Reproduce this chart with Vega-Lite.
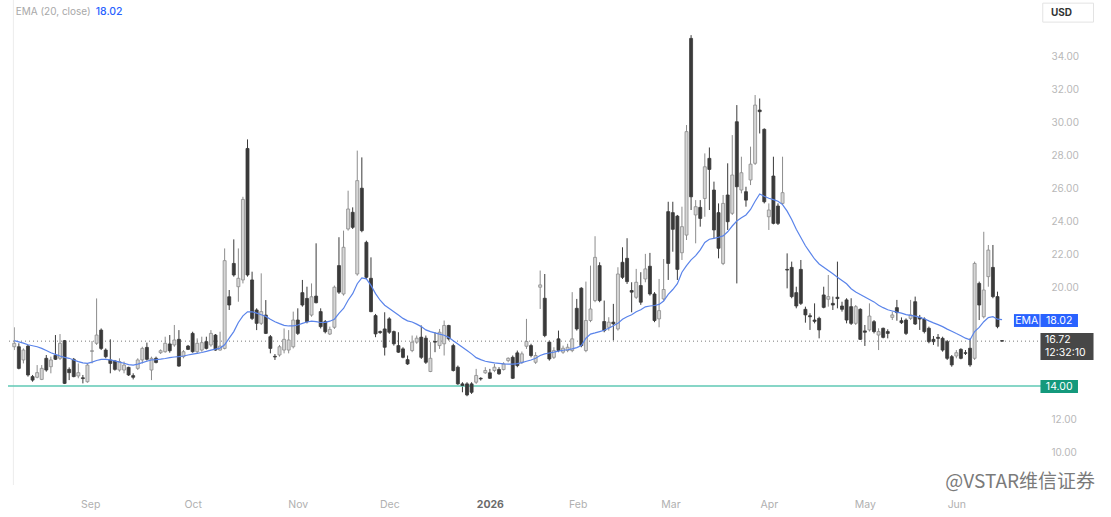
{
"$schema":"https://vega.github.io/schema/vega-lite/v6.json",
"width":1034,"height":485,"autosize":"none",
"padding":{"left":8,"top":0,"right":69,"bottom":32},
"background":"white",
"config":{"view":{"stroke":null},"font":"Inter","text":{"font":"Inter"}},
"data":{"values":[{}]},
"datasets":{"candles":[
{"i":0,"o":16.38,"h":17.56,"l":16.18,"c":16.59,"e":16.75},
{"i":1,"o":16.38,"h":16.59,"l":15.01,"c":15.07,"e":16.68},
{"i":2,"o":15.58,"h":16.28,"l":15.37,"c":16.18,"e":16.6},
{"i":3,"o":16.42,"h":16.49,"l":14.57,"c":14.67,"e":16.5},
{"i":4,"o":14.57,"h":14.67,"l":14.26,"c":14.36,"e":16.44},
{"i":5,"o":14.53,"h":15.27,"l":14.47,"c":14.81,"e":16.38},
{"i":6,"o":14.4,"h":15.27,"l":14.36,"c":15.07,"e":16.28},
{"i":7,"o":15.68,"h":15.88,"l":14.87,"c":14.97,"e":16.15},
{"i":8,"o":15.17,"h":15.78,"l":14.77,"c":15.58,"e":16.02},
{"i":9,"o":15.86,"h":17.09,"l":15.58,"c":15.62,"e":15.92},
{"i":10,"o":15.68,"h":17.15,"l":15.58,"c":16.59,"e":15.82},
{"i":11,"o":16.75,"h":16.79,"l":14.12,"c":14.16,"e":15.74},
{"i":12,"o":15.01,"h":15.13,"l":14.36,"c":14.81,"e":15.68},
{"i":13,"o":15.62,"h":15.7,"l":14.53,"c":14.57,"e":15.58},
{"i":14,"o":14.61,"h":15.37,"l":14.47,"c":14.81,"e":15.48},
{"i":15,"o":14.5,"h":14.67,"l":14.16,"c":14.45,"e":15.4},
{"i":16,"o":14.26,"h":15.37,"l":14.2,"c":15.27,"e":15.37},
{"i":17,"o":16.1,"h":16.73,"l":15.37,"c":16.14,"e":15.45},
{"i":18,"o":16.59,"h":19.31,"l":16.49,"c":17.09,"e":15.55},
{"i":19,"o":17.39,"h":17.49,"l":16.18,"c":16.28,"e":15.62},
{"i":20,"o":16.18,"h":16.28,"l":15.68,"c":15.78,"e":15.62},
{"i":21,"o":15.58,"h":16.83,"l":14.77,"c":15.37,"e":15.58},
{"i":22,"o":15.52,"h":15.58,"l":14.93,"c":15.01,"e":15.52},
{"i":23,"o":14.97,"h":15.68,"l":14.87,"c":15.48,"e":15.45},
{"i":24,"o":14.97,"h":15.48,"l":14.77,"c":15.27,"e":15.38},
{"i":25,"o":15.13,"h":15.17,"l":14.61,"c":14.67,"e":15.3},
{"i":26,"o":14.63,"h":14.77,"l":14.4,"c":14.53,"e":15.27},
{"i":27,"o":15.07,"h":15.68,"l":14.97,"c":15.58,"e":15.33},
{"i":28,"o":15.58,"h":16.38,"l":15.37,"c":16.28,"e":15.42},
{"i":29,"o":16.34,"h":16.63,"l":15.54,"c":15.62,"e":15.5},
{"i":30,"o":14.97,"h":15.78,"l":14.36,"c":15.68,"e":15.58},
{"i":31,"o":15.68,"h":15.78,"l":15.37,"c":15.43,"e":15.6},
{"i":32,"o":16.02,"h":16.22,"l":15.94,"c":16.14,"e":15.63},
{"i":33,"o":16.08,"h":16.99,"l":16.02,"c":16.59,"e":15.67},
{"i":34,"o":16.55,"h":17.09,"l":16.02,"c":16.14,"e":15.72},
{"i":35,"o":16.49,"h":17.7,"l":16.38,"c":16.79,"e":15.76},
{"i":36,"o":16.83,"h":17.39,"l":15.17,"c":15.21,"e":15.78},
{"i":37,"o":15.78,"h":16.18,"l":15.68,"c":16.08,"e":15.82},
{"i":38,"o":16.42,"h":16.49,"l":16.18,"c":16.22,"e":15.88},
{"i":39,"o":17.19,"h":17.29,"l":16.02,"c":16.08,"e":15.93},
{"i":40,"o":16.08,"h":16.89,"l":15.98,"c":16.59,"e":15.98},
{"i":41,"o":16.18,"h":16.99,"l":16.08,"c":16.63,"e":16.03},
{"i":42,"o":16.69,"h":16.99,"l":16.22,"c":16.28,"e":16.1},
{"i":43,"o":16.49,"h":17.39,"l":16.38,"c":17.19,"e":16.18},
{"i":44,"o":17.09,"h":17.15,"l":16.14,"c":16.18,"e":16.24},
{"i":45,"o":16.18,"h":17.29,"l":16.14,"c":16.42,"e":16.3},
{"i":46,"o":16.28,"h":22.34,"l":16.22,"c":21.6,"e":16.5},
{"i":47,"o":19.41,"h":19.82,"l":18.61,"c":18.91,"e":16.9},
{"i":48,"o":21.43,"h":22.89,"l":20.63,"c":20.73,"e":17.3},
{"i":49,"o":20.02,"h":22.34,"l":19.11,"c":20.53,"e":17.85},
{"i":50,"o":20.43,"h":25.47,"l":20.22,"c":25.31,"e":18.25},
{"i":51,"o":28.4,"h":28.95,"l":20.63,"c":20.73,"e":18.5},
{"i":52,"o":20.43,"h":20.93,"l":18.0,"c":18.1,"e":18.5},
{"i":53,"o":18.61,"h":18.71,"l":17.39,"c":17.8,"e":18.42},
{"i":54,"o":17.8,"h":20.83,"l":17.7,"c":18.51,"e":18.32},
{"i":55,"o":18.3,"h":19.21,"l":17.15,"c":17.19,"e":18.22},
{"i":56,"o":16.99,"h":17.09,"l":15.98,"c":16.28,"e":18.05},
{"i":57,"o":15.8,"h":15.94,"l":15.58,"c":15.76,"e":17.9},
{"i":58,"o":15.88,"h":16.49,"l":15.78,"c":16.38,"e":17.78},
{"i":59,"o":16.18,"h":17.49,"l":15.98,"c":16.83,"e":17.68},
{"i":60,"o":16.18,"h":17.39,"l":15.98,"c":16.79,"e":17.64},
{"i":61,"o":16.38,"h":18.51,"l":16.28,"c":18.0,"e":17.65},
{"i":62,"o":18.0,"h":18.71,"l":17.09,"c":17.19,"e":17.7},
{"i":63,"o":19.66,"h":20.43,"l":18.81,"c":18.91,"e":17.8},
{"i":64,"o":19.31,"h":20.02,"l":17.8,"c":17.9,"e":17.88},
{"i":65,"o":18.3,"h":20.22,"l":18.2,"c":19.41,"e":17.93},
{"i":66,"o":19.45,"h":22.65,"l":19.01,"c":19.05,"e":17.9},
{"i":67,"o":18.51,"h":18.71,"l":17.49,"c":17.6,"e":17.85},
{"i":68,"o":17.9,"h":18.0,"l":17.19,"c":17.29,"e":17.86},
{"i":69,"o":17.15,"h":17.6,"l":17.09,"c":17.43,"e":17.93},
{"i":70,"o":17.56,"h":20.09,"l":17.46,"c":19.99,"e":18.05},
{"i":71,"o":21.3,"h":23.02,"l":19.58,"c":19.69,"e":18.4},
{"i":72,"o":19.58,"h":23.42,"l":19.48,"c":22.41,"e":18.7},
{"i":73,"o":23.52,"h":25.84,"l":23.42,"c":24.73,"e":19.2},
{"i":74,"o":24.53,"h":24.83,"l":23.52,"c":23.62,"e":19.6},
{"i":75,"o":20.79,"h":28.27,"l":20.69,"c":26.45,"e":20.2},
{"i":76,"o":25.99,"h":27.86,"l":23.32,"c":23.42,"e":20.55},
{"i":77,"o":22.71,"h":22.81,"l":20.49,"c":20.59,"e":20.5},
{"i":78,"o":20.53,"h":21.8,"l":18.47,"c":18.51,"e":20.1},
{"i":79,"o":18.27,"h":18.37,"l":16.96,"c":17.16,"e":19.6},
{"i":80,"o":17.3,"h":17.36,"l":17.16,"c":17.24,"e":19.2},
{"i":81,"o":17.46,"h":18.47,"l":15.85,"c":16.35,"e":18.9},
{"i":82,"o":18.07,"h":18.17,"l":17.16,"c":17.26,"e":18.7},
{"i":83,"o":17.3,"h":17.36,"l":16.45,"c":16.56,"e":18.5},
{"i":84,"o":16.45,"h":17.26,"l":16.01,"c":16.05,"e":18.3},
{"i":85,"o":16.25,"h":16.35,"l":15.68,"c":15.74,"e":18.1},
{"i":86,"o":15.6,"h":15.85,"l":15.28,"c":15.34,"e":17.95},
{"i":87,"o":16.15,"h":17.06,"l":16.05,"c":16.66,"e":17.88},
{"i":88,"o":16.66,"h":17.06,"l":16.56,"c":16.9,"e":17.75},
{"i":89,"o":16.96,"h":17.67,"l":15.64,"c":15.74,"e":17.6},
{"i":90,"o":16.9,"h":17.06,"l":15.34,"c":15.44,"e":17.4},
{"i":91,"o":14.88,"h":16.66,"l":14.84,"c":15.68,"e":17.3},
{"i":92,"o":16.7,"h":17.26,"l":16.05,"c":16.66,"e":17.22},
{"i":93,"o":16.45,"h":17.46,"l":16.25,"c":17.26,"e":17.15},
{"i":94,"o":16.56,"h":17.97,"l":15.85,"c":17.67,"e":17.08},
{"i":95,"o":17.67,"h":17.71,"l":16.76,"c":16.86,"e":16.95},
{"i":96,"o":16.45,"h":16.56,"l":14.88,"c":14.94,"e":16.75},
{"i":97,"o":15.14,"h":15.24,"l":14.07,"c":14.13,"e":16.55},
{"i":98,"o":14.13,"h":14.23,"l":13.62,"c":14.03,"e":16.35},
{"i":99,"o":14.13,"h":14.23,"l":13.38,"c":13.46,"e":16.15},
{"i":100,"o":14.13,"h":14.23,"l":13.52,"c":13.62,"e":15.95},
{"i":101,"o":14.23,"h":15.04,"l":14.13,"c":14.64,"e":15.72},
{"i":102,"o":14.47,"h":14.53,"l":14.33,"c":14.43,"e":15.6},
{"i":103,"o":14.8,"h":15.14,"l":14.74,"c":14.94,"e":15.5},
{"i":104,"o":14.8,"h":15.04,"l":14.43,"c":14.47,"e":15.45},
{"i":105,"o":14.94,"h":15.34,"l":14.84,"c":15.14,"e":15.4},
{"i":106,"o":15.0,"h":15.14,"l":14.68,"c":14.74,"e":15.37},
{"i":107,"o":15.0,"h":15.44,"l":14.94,"c":15.34,"e":15.34},
{"i":108,"o":15.54,"h":15.74,"l":15.44,"c":15.68,"e":15.33},
{"i":109,"o":15.74,"h":15.85,"l":14.43,"c":14.47,"e":15.33},
{"i":110,"o":16.01,"h":16.15,"l":15.14,"c":15.24,"e":15.36},
{"i":111,"o":15.44,"h":16.09,"l":15.34,"c":15.95,"e":15.42},
{"i":112,"o":16.41,"h":18.07,"l":16.25,"c":16.7,"e":15.5},
{"i":113,"o":16.45,"h":16.56,"l":15.74,"c":15.85,"e":15.58},
{"i":114,"o":15.44,"h":16.05,"l":15.34,"c":15.85,"e":15.68},
{"i":115,"o":19.99,"h":21.0,"l":18.67,"c":20.13,"e":15.85},
{"i":116,"o":19.32,"h":20.79,"l":16.96,"c":17.06,"e":15.95},
{"i":117,"o":16.66,"h":16.76,"l":15.54,"c":15.64,"e":16.0},
{"i":118,"o":15.74,"h":16.35,"l":15.64,"c":16.15,"e":16.05},
{"i":119,"o":16.86,"h":17.36,"l":16.05,"c":16.15,"e":16.12},
{"i":120,"o":16.05,"h":16.45,"l":15.95,"c":16.29,"e":16.17},
{"i":121,"o":16.15,"h":16.56,"l":16.05,"c":16.35,"e":16.2},
{"i":122,"o":16.15,"h":19.69,"l":16.05,"c":16.86,"e":16.25},
{"i":123,"o":18.71,"h":19.28,"l":17.36,"c":17.46,"e":16.33},
{"i":124,"o":19.93,"h":19.99,"l":16.35,"c":16.45,"e":16.45},
{"i":125,"o":16.15,"h":20.33,"l":16.05,"c":17.97,"e":16.9},
{"i":126,"o":17.97,"h":21.3,"l":17.87,"c":18.67,"e":17.15},
{"i":127,"o":19.18,"h":23.08,"l":19.08,"c":21.8,"e":17.22},
{"i":128,"o":21.3,"h":21.5,"l":19.08,"c":19.18,"e":17.3},
{"i":129,"o":17.91,"h":19.18,"l":17.26,"c":17.36,"e":17.38},
{"i":130,"o":17.56,"h":18.17,"l":17.36,"c":17.87,"e":17.5},
{"i":131,"o":17.87,"h":18.98,"l":16.76,"c":17.77,"e":17.65},
{"i":132,"o":17.46,"h":21.2,"l":17.36,"c":20.79,"e":17.8},
{"i":133,"o":21.5,"h":22.41,"l":20.49,"c":20.59,"e":18.05},
{"i":134,"o":21.74,"h":22.96,"l":20.19,"c":20.33,"e":18.2},
{"i":135,"o":19.79,"h":20.29,"l":18.47,"c":19.69,"e":18.32},
{"i":136,"o":19.38,"h":21.1,"l":19.28,"c":20.29,"e":18.5},
{"i":137,"o":20.09,"h":20.9,"l":18.92,"c":19.08,"e":18.62},
{"i":138,"o":20.49,"h":22.01,"l":20.29,"c":21.1,"e":18.8},
{"i":139,"o":21.26,"h":22.07,"l":19.48,"c":19.58,"e":18.85},
{"i":140,"o":19.58,"h":19.69,"l":17.87,"c":17.97,"e":18.88},
{"i":141,"o":18.07,"h":20.49,"l":17.56,"c":18.57,"e":18.95},
{"i":142,"o":19.28,"h":21.7,"l":19.18,"c":19.85,"e":19.15},
{"i":143,"o":24.57,"h":25.17,"l":20.43,"c":21.43,"e":19.55},
{"i":144,"o":24.51,"h":25.17,"l":22.14,"c":23.5,"e":19.85},
{"i":145,"o":24.3,"h":24.37,"l":20.43,"c":21.07,"e":20.2},
{"i":146,"o":22.08,"h":24.87,"l":21.64,"c":23.66,"e":20.9},
{"i":147,"o":23.15,"h":29.82,"l":22.85,"c":29.42,"e":21.3},
{"i":148,"o":35.07,"h":35.27,"l":24.67,"c":25.47,"e":21.65},
{"i":149,"o":24.37,"h":25.27,"l":22.65,"c":24.87,"e":21.9},
{"i":150,"o":24.83,"h":25.27,"l":23.66,"c":24.16,"e":22.25},
{"i":151,"o":25.37,"h":28.1,"l":24.26,"c":27.29,"e":22.7},
{"i":152,"o":27.8,"h":28.46,"l":24.67,"c":27.13,"e":22.9},
{"i":153,"o":25.88,"h":26.39,"l":22.95,"c":23.46,"e":22.95},
{"i":154,"o":24.51,"h":25.07,"l":21.74,"c":22.35,"e":23.02},
{"i":155,"o":21.43,"h":25.58,"l":21.33,"c":25.07,"e":23.1},
{"i":156,"o":25.58,"h":27.5,"l":23.46,"c":23.96,"e":23.35},
{"i":157,"o":24.47,"h":29.21,"l":24.37,"c":26.79,"e":23.7},
{"i":158,"o":30.02,"h":31.03,"l":20.22,"c":26.08,"e":24.0},
{"i":159,"o":25.88,"h":27.9,"l":25.68,"c":26.93,"e":24.2},
{"i":160,"o":25.78,"h":26.08,"l":24.87,"c":25.27,"e":24.37},
{"i":161,"o":26.49,"h":28.51,"l":26.18,"c":27.45,"e":24.7},
{"i":162,"o":27.5,"h":31.64,"l":27.4,"c":31.03,"e":25.2},
{"i":163,"o":30.73,"h":31.43,"l":29.31,"c":30.63,"e":25.64},
{"i":164,"o":29.56,"h":29.62,"l":25.07,"c":25.17,"e":25.5},
{"i":165,"o":24.26,"h":25.07,"l":23.46,"c":24.67,"e":25.38},
{"i":166,"o":26.73,"h":27.9,"l":23.8,"c":23.86,"e":25.3},
{"i":167,"o":24.91,"h":25.07,"l":23.76,"c":23.86,"e":25.2},
{"i":168,"o":25.07,"h":27.9,"l":24.97,"c":25.72,"e":25.0},
{"i":169,"o":21.07,"h":22.04,"l":19.92,"c":21.03,"e":24.6},
{"i":170,"o":21.19,"h":21.54,"l":19.32,"c":19.42,"e":24.1},
{"i":171,"o":19.66,"h":20.02,"l":18.71,"c":18.85,"e":23.5},
{"i":172,"o":21.07,"h":21.64,"l":18.91,"c":19.01,"e":23.0},
{"i":173,"o":18.65,"h":18.81,"l":17.84,"c":18.31,"e":22.5},
{"i":174,"o":18.26,"h":18.41,"l":17.4,"c":18.2,"e":22.1},
{"i":175,"o":18.0,"h":19.01,"l":17.8,"c":17.92,"e":21.7},
{"i":176,"o":18.1,"h":18.2,"l":16.89,"c":17.4,"e":21.4},
{"i":177,"o":19.52,"h":20.02,"l":18.71,"c":18.77,"e":21.2},
{"i":178,"o":19.26,"h":20.73,"l":18.81,"c":19.42,"e":21.0},
{"i":179,"o":19.01,"h":19.42,"l":18.61,"c":18.91,"e":20.8},
{"i":180,"o":19.38,"h":21.54,"l":18.71,"c":19.3,"e":20.6},
{"i":181,"o":18.85,"h":19.11,"l":18.51,"c":18.65,"e":20.4},
{"i":182,"o":19.22,"h":19.32,"l":17.8,"c":18.0,"e":20.2},
{"i":183,"o":18.81,"h":19.32,"l":17.7,"c":17.8,"e":19.9},
{"i":184,"o":17.8,"h":18.91,"l":17.7,"c":18.81,"e":19.7},
{"i":185,"o":18.65,"h":18.71,"l":16.79,"c":16.83,"e":19.55},
{"i":186,"o":17.34,"h":17.7,"l":16.43,"c":17.26,"e":19.4},
{"i":187,"o":17.4,"h":19.01,"l":17.3,"c":18.24,"e":19.25},
{"i":188,"o":17.9,"h":18.0,"l":17.19,"c":17.3,"e":19.1},
{"i":189,"o":17.09,"h":17.5,"l":16.18,"c":17.3,"e":18.9},
{"i":190,"o":17.5,"h":17.54,"l":16.89,"c":16.95,"e":18.75},
{"i":191,"o":17.3,"h":17.44,"l":16.89,"c":17.19,"e":18.62},
{"i":192,"o":18.16,"h":18.51,"l":18.0,"c":18.31,"e":18.55},
{"i":193,"o":18.75,"h":19.22,"l":17.96,"c":18.45,"e":18.48},
{"i":194,"o":17.96,"h":18.16,"l":17.76,"c":17.84,"e":18.42},
{"i":195,"o":18.0,"h":18.1,"l":17.09,"c":17.19,"e":18.33},
{"i":196,"o":18.1,"h":19.22,"l":18.0,"c":18.31,"e":18.28},
{"i":197,"o":19.11,"h":19.42,"l":17.7,"c":17.76,"e":18.24},
{"i":198,"o":18.16,"h":18.31,"l":17.4,"c":18.06,"e":18.16},
{"i":199,"o":18.06,"h":18.16,"l":17.19,"c":17.3,"e":18.08},
{"i":200,"o":17.5,"h":17.6,"l":16.59,"c":16.69,"e":17.95},
{"i":201,"o":16.83,"h":17.03,"l":16.49,"c":16.69,"e":17.83},
{"i":202,"o":16.95,"h":17.15,"l":16.39,"c":16.89,"e":17.72},
{"i":203,"o":16.89,"h":16.99,"l":16.08,"c":16.18,"e":17.6},
{"i":204,"o":16.69,"h":16.79,"l":15.58,"c":15.68,"e":17.45},
{"i":205,"o":15.78,"h":15.88,"l":15.17,"c":15.28,"e":17.32},
{"i":206,"o":15.82,"h":16.18,"l":15.68,"c":16.02,"e":17.18},
{"i":207,"o":16.22,"h":16.29,"l":15.62,"c":15.68,"e":17.05},
{"i":208,"o":16.02,"h":16.18,"l":15.88,"c":15.98,"e":16.9},
{"i":209,"o":16.29,"h":16.89,"l":15.17,"c":15.28,"e":16.8},
{"i":210,"o":15.68,"h":21.54,"l":15.58,"c":21.43,"e":17.3},
{"i":211,"o":20.22,"h":20.33,"l":18.0,"c":18.91,"e":17.55},
{"i":212,"o":18.2,"h":23.35,"l":18.1,"c":19.82,"e":17.9},
{"i":213,"o":20.63,"h":22.55,"l":20.02,"c":22.24,"e":18.15},
{"i":214,"o":21.19,"h":22.55,"l":19.32,"c":19.42,"e":18.2},
{"i":215,"o":19.42,"h":19.72,"l":17.5,"c":17.6,"e":18.05},
{"i":216,"o":16.75,"h":16.78,"l":16.7,"c":16.72,"e":18.02}
]},
"layer":[
{"data":{"name":"candles"},
 "mark":{"type":"rule","strokeWidth":1},
 "encoding":{
  "x":{"field":"i","type":"quantitative","scale":{"domain":[-0.28,223.64],"nice":false,"zero":false},
   "axis":{"values":[16.6,39,62,82,104,123.2,143.5,165,186,206],
    "labelExpr":"datum.value==16.6?'Sep':datum.value==39?'Oct':datum.value==62?'Nov':datum.value==82?'Dec':datum.value==104?'2026':datum.value==123.2?'Feb':datum.value==143.5?'Mar':datum.value==165?'Apr':datum.value==186?'May':'Jun'",
    "title":null,"grid":false,"domain":false,"ticks":false,"labelPadding":14,"labelFlush":false,"labelFontSize":10.5,"labelFont":"Inter",
    "labelColor":{"condition":{"test":"datum.value==104","value":"#6b6b6b"},"value":"#b0b0b0"},
    "labelFontWeight":{"condition":{"test":"datum.value==104","value":"bold"},"value":"normal"}}},
  "y":{"field":"l","type":"quantitative","scale":{"domain":[8.0,37.4],"nice":false,"zero":false},
   "axis":{"orient":"right","values":[10,12,20,22,24,26,28,30,32,34],"format":".2f","title":null,"grid":false,"domain":false,"ticks":false,"labelPadding":9,"labelColor":"#b8b8b8","labelFontSize":10,"labelFont":"Inter"}},
  "y2":{"field":"h"},
  "color":{"condition":{"test":"datum.c>=datum.o","value":"#8c8c8c"},"value":"#3a3a3a"}}},
{"mark":{"type":"rule","color":"#ececec","strokeWidth":1},
 "encoding":{"x":{"datum":-0.2}}},
{"mark":{"type":"rule","color":"#7a7a7a","strokeDash":[1,3],"strokeWidth":1},
 "encoding":{"y":{"datum":16.72}}},
{"mark":{"type":"rule","color":"#5fc8b4","strokeWidth":1.6},
 "encoding":{"y":{"datum":14.0}}},
{"data":{"name":"candles"},
 "mark":{"type":"bar","width":3,"strokeWidth":0.8},
 "encoding":{
  "x":{"field":"i","type":"quantitative"},
  "y":{"field":"o","type":"quantitative"},
  "y2":{"field":"c"},
  "fill":{"condition":{"test":"datum.c>=datum.o","value":"#d6d6d6"},"value":"#3a3a3a"},
  "stroke":{"condition":{"test":"datum.c>=datum.o","value":"#8c8c8c"},"value":"#3a3a3a"}}},
{"data":{"name":"candles"},
 "mark":{"type":"line","color":"#5a84ea","strokeWidth":1.2},
 "encoding":{
  "x":{"field":"i","type":"quantitative"},
  "y":{"field":"e","type":"quantitative"}}},
{"mark":{"type":"rect","color":"#2962ff"},
 "encoding":{"x":{"datum":218.6},"x2":{"datum":224.2},"y":{"datum":18.36},"y2":{"datum":17.58}}},
{"mark":{"type":"rect","color":"#2962ff"},
 "encoding":{"x":{"datum":224.4},"x2":{"datum":232.6},"y":{"datum":18.36},"y2":{"datum":17.58}}},
{"mark":{"type":"rect","color":"#474747"},
 "encoding":{"x":{"datum":224.4},"x2":{"datum":236.0},"y":{"datum":17.21},"y2":{"datum":15.58}}},
{"mark":{"type":"rect","color":"#14997c"},
 "encoding":{"x":{"datum":224.4},"x2":{"datum":232.6},"y":{"datum":14.36},"y2":{"datum":13.58}}},
{"mark":{"type":"rect","fill":"white","stroke":"#e3e3e3","strokeWidth":1},
 "encoding":{"x":{"datum":224.9},"x2":{"datum":236.0},"y":{"datum":37.21},"y2":{"datum":36.06}}},
{"mark":{"type":"text","color":"white","fontSize":10.5,"align":"center","baseline":"middle"},
 "encoding":{"x":{"datum":221.4},"y":{"datum":17.97},"text":{"value":"EMA"}}},
{"mark":{"type":"text","color":"white","fontSize":10.5,"align":"center","baseline":"middle"},
 "encoding":{"x":{"datum":228.5},"y":{"datum":17.97},"text":{"value":"18.02"}}},
{"mark":{"type":"text","color":"white","fontSize":10.5,"align":"left","baseline":"middle"},
 "encoding":{"x":{"datum":225.4},"y":{"datum":16.79},"text":{"value":"16.72"}}},
{"mark":{"type":"text","color":"white","fontSize":10.5,"align":"left","baseline":"middle"},
 "encoding":{"x":{"datum":225.4},"y":{"datum":16.0},"text":{"value":"12:32:10"}}},
{"mark":{"type":"text","color":"white","fontSize":10.5,"align":"center","baseline":"middle"},
 "encoding":{"x":{"datum":228.5},"y":{"datum":13.97},"text":{"value":"14.00"}}},
{"mark":{"type":"text","color":"#333333","fontSize":10,"fontWeight":"bold","align":"center","baseline":"middle"},
 "encoding":{"x":{"datum":229.0},"y":{"datum":36.64},"text":{"value":"USD"}}},
{"mark":{"type":"text","color":"#a8a8a8","fontSize":10,"align":"left","baseline":"middle"},
 "encoding":{"x":{"datum":0.3},"y":{"datum":36.67},"text":{"value":"EMA (20, close)"}}},
{"mark":{"type":"text","color":"#2962ff","fontSize":10.5,"fontWeight":500,"align":"left","baseline":"middle"},
 "encoding":{"x":{"datum":17.8},"y":{"datum":36.67},"text":{"value":"18.02"}}},
{"mark":{"type":"text","color":"#5a5a5a","opacity":0.8,"fontSize":19,"font":"Noto Sans CJK SC","align":"left","baseline":"middle"},
 "encoding":{"x":{"datum":203.6},"y":{"datum":8.2},"text":{"value":"@VSTAR维信证券"}}}
]
}
